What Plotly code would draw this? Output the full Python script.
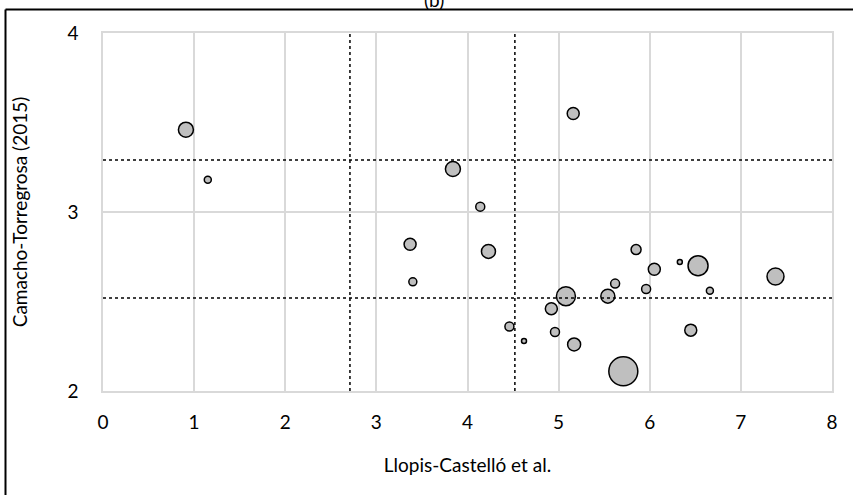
import plotly.graph_objects as go

# Data
x_vals = [0.91, 1.15, 3.84, 3.37, 4.14, 5.16, 4.23, 5.85, 3.40, 6.05, 6.33, 6.53,
          7.38, 6.66, 5.62, 5.96, 5.08, 5.54, 4.92, 4.46, 4.62, 4.96, 5.17, 6.45, 5.71]
y_vals = [3.46, 3.18, 3.24, 2.82, 3.03, 3.55, 2.78, 2.79, 2.61, 2.68, 2.72, 2.70,
          2.64, 2.56, 2.60, 2.57, 2.53, 2.53, 2.46, 2.36, 2.28, 2.33, 2.26, 2.34, 2.11]
bubble = [15, 7, 15, 12, 9, 12, 14, 10, 8, 12, 5, 20,
          17, 7, 9, 9, 19, 14, 12, 9, 5, 9, 13, 12, 29]

x_thresholds = [2.71, 4.52]
y_thresholds = [3.29, 2.52]

x_ticks = [0, 1, 2, 3, 4, 5, 6, 7, 8]
y_ticks = [2, 3, 4]

FONT = "Lato"
FS = 19

fig = go.Figure()
fig.add_trace(go.Scatter(
    x=x_vals, y=y_vals, mode="markers",
    marker=dict(size=bubble, sizemode="diameter", color="#bfbfbf",
                line=dict(color="#000000", width=1.5), opacity=1),
    showlegend=False, hoverinfo="x+y"))

for xv in x_thresholds:
    fig.add_shape(type="line", xref="x", yref="y", x0=xv, x1=xv, y0=2, y1=4,
                  line=dict(color="black", width=1.5, dash="dot"))
for yv in y_thresholds:
    fig.add_shape(type="line", xref="x", yref="y", x0=0, x1=8, y0=yv, y1=yv,
                  line=dict(color="black", width=1.5, dash="dot"))

W, H = 853, 495
ml, mr, mt, mb = 103, 21, 33, 104
pw, ph = W - ml - mr, H - mt - mb

def px(xp):
    return (xp - ml) / pw

def py(yp):
    return 1 - (yp - mt) / ph

# outer frame (left and top edges visible)
fig.add_shape(type="line", xref="paper", yref="paper", x0=px(5.5), x1=px(W + 5),
              y0=py(9.5), y1=py(9.5), line=dict(color="black", width=2))
fig.add_shape(type="line", xref="paper", yref="paper", x0=px(5.5), x1=px(5.5),
              y0=py(9.5), y1=py(H + 5), line=dict(color="black", width=2))

fig.add_annotation(text="(b)", xref="paper", yref="paper", x=px(434), y=py(-1),
                   xanchor="center", yanchor="middle", showarrow=False,
                   font=dict(family=FONT, size=FS, color="black"))

fig.update_layout(
    width=W, height=H,
    margin=dict(l=ml, r=mr, t=mt, b=mb),
    plot_bgcolor="white", paper_bgcolor="white",
    font=dict(family=FONT, size=FS, color="#000000"),
)
fig.update_xaxes(range=[0, 8], tickvals=x_ticks, showgrid=True, gridcolor="#d9d9d9",
                 gridwidth=1.5, showline=True, mirror=True, linecolor="#d9d9d9",
                 linewidth=1.5, zeroline=False, ticks="", ticklabelstandoff=13,
                 title=dict(text="Llopis-Castelló et al.", standoff=27,
                            font=dict(family=FONT, size=FS)))
fig.update_yaxes(range=[2, 4], tickvals=y_ticks, showgrid=True, gridcolor="#d9d9d9",
                 gridwidth=1.5, showline=True, mirror=True, linecolor="#d9d9d9",
                 linewidth=1.5, zeroline=False, ticks="", ticklabelstandoff=19,
                 title=dict(text="Camacho-Torregrosa (2015)", standoff=35,
                            font=dict(family=FONT, size=FS)))

fig.write_html("out.html")
